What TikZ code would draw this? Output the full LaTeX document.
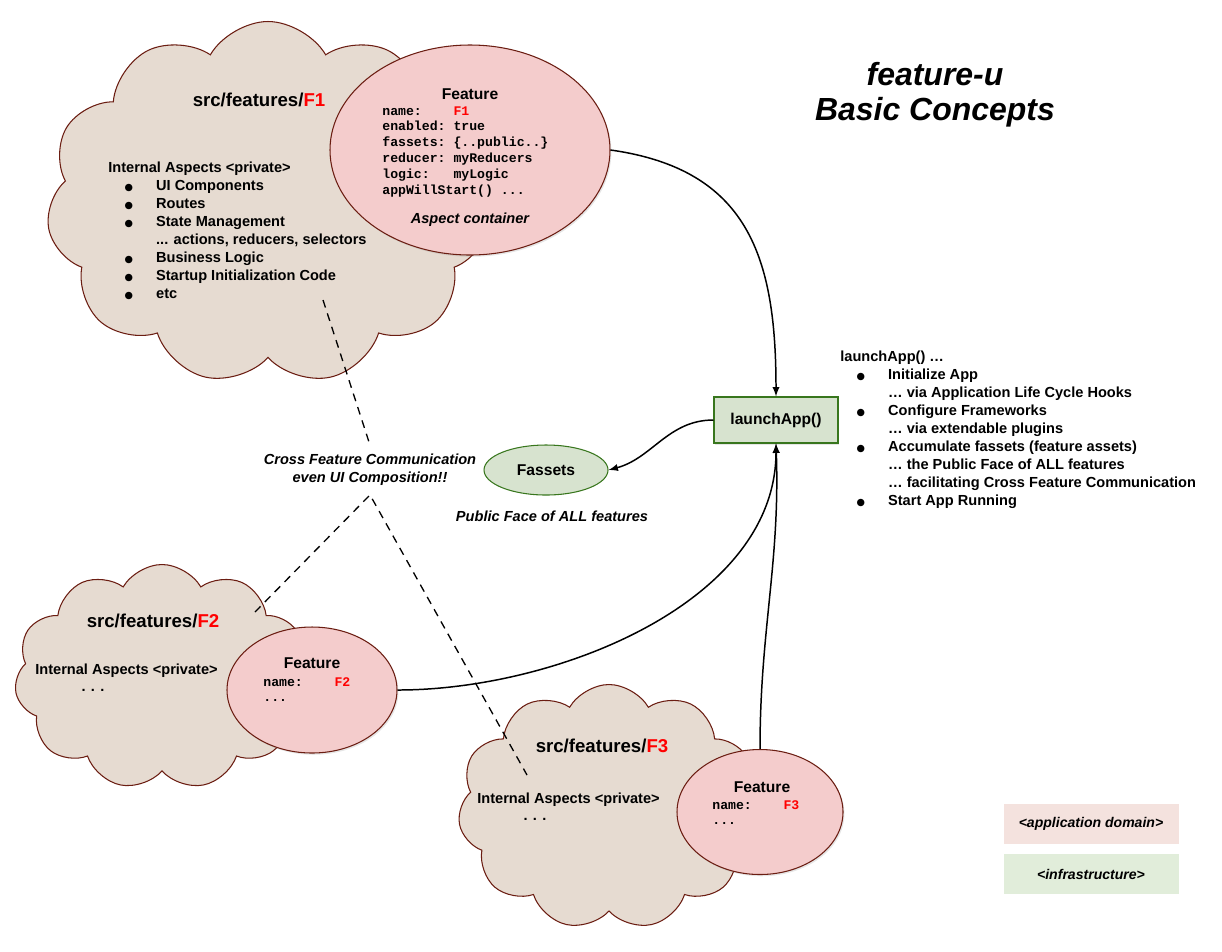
\documentclass[tikz,border=0pt]{standalone}
\usepackage{fontspec}
\setmainfont{Liberation Sans}
\setmonofont{Liberation Mono}
\newfontfamily\dotfont{DejaVu Sans}
\usetikzlibrary{shapes.geometric,shapes.symbols,shadows}

\definecolor{cloudfill}{HTML}{E6DBD1}
\definecolor{clouddraw}{HTML}{6B1D12}
\definecolor{featfill}{HTML}{F4CCCC}
\definecolor{infrafill}{HTML}{D7E3CF}
\definecolor{infradraw}{HTML}{38761D}
\definecolor{apppale}{HTML}{F4E2DE}
\definecolor{infrapale}{HTML}{E1EDDA}

\newcommand\bul{\hspace*{9.2pt}\makebox[18pt][l]{{\dotfont\fontsize{5.5}{6}\selectfont ●}}}
\newcommand\cont{\hspace*{27.2pt}}
\newcommand\fld[1]{\makebox[5.4em][l]{#1}}

\begin{document}
\begin{tikzpicture}[x=0.02cm, y=-0.02cm,
    font=\fontsize{8.3}{10.2}\selectfont\bfseries,
    cloudy/.style={cloud, cloud puffs=11, cloud puff arc=120, draw=clouddraw, fill=cloudfill, line width=0.6pt},
    featblob/.style={ellipse, draw=clouddraw, fill=featfill, line width=0.6pt, inner sep=0pt,
        drop shadow={opacity=0.2, shadow xshift=0.8pt, shadow yshift=-1pt}},
    infra/.style={draw=infradraw, fill=infrafill, line width=0.6pt, font=\fontsize{8.9}{10}\selectfont\bfseries},
    txt/.style={inner sep=0pt, align=left},
    code/.style={inner sep=0pt, align=left, font=\fontsize{7.5}{9}\selectfont\bfseries\ttfamily},
    big/.style={font=\fontsize{10.6}{12}\selectfont\bfseries},
    head/.style={font=\fontsize{8.9}{10}\selectfont\bfseries},
    note/.style={font=\fontsize{8.3}{10.2}\selectfont\bfseries\itshape},
    link/.style={-latex, line width=0.85pt},
    crosslink/.style={dash pattern=on 4.5pt off 3.5pt, line width=0.75pt},
    legend/.style={minimum width=175*0.02cm, minimum height=40*0.02cm, font=\fontsize{8}{10}\selectfont\bfseries\itshape}]
    \useasboundingbox (0,0) rectangle (1222,951);

    % clouds
    \node[cloudy, aspect=1.22, minimum width=443*0.02cm, minimum height=363*0.02cm] (f1cloud) at (268,203) {};
    \node[cloudy, aspect=1.31, minimum width=295*0.02cm, minimum height=225*0.02cm] (f2cloud) at (162,677) {};
    \node[cloudy, aspect=1.23, minimum width=302*0.02cm, minimum height=245*0.02cm] (f3cloud) at (609,807) {};

    % feature ellipses
    \node[featblob, minimum width=280*0.02cm, minimum height=210*0.02cm] (f1feat) at (470,150) {};
    \node[featblob, minimum width=170*0.02cm, minimum height=126*0.02cm] (f2feat) at (312,690) {};
    \node[featblob, minimum width=166*0.02cm, minimum height=125*0.02cm] (f3feat) at (760,812) {};

    % infrastructure
    \node[infra, minimum width=124*0.02cm, minimum height=46*0.02cm,
        drop shadow={opacity=0.2, shadow xshift=0.8pt, shadow yshift=-1pt}] (launch) at (776,420) {launchApp()};
    \node[infra, ellipse, minimum width=124*0.02cm, minimum height=50*0.02cm] (fassets) at (546,470) {Fassets};

    % F1 texts
    \node[big] (f1title) at (259,100) {src/features/{\color{red}F1}};
    \node[txt, anchor=north west] (f1list) at (108,162) {Internal Aspects <private>\\
        \bul UI Components\\
        \bul Routes\\
        \bul State Management\\
        \cont ... actions, reducers, selectors\\
        \bul Business Logic\\
        \bul Startup Initialization Code\\
        \bul etc};
    \node[head] (f1name) at (470,94) {Feature};
    \node[code, anchor=north west] (f1code) at (382,106) {\fld{name:}{\color{red}F1}\\
        \fld{enabled:}true\\
        \fld{fassets:}\{..public..\}\\
        \fld{reducer:}myReducers\\
        \fld{logic:}myLogic\\
        appWillStart() ...};
    \node[note] (f1note) at (470,220) {Aspect container};

    % F2 texts
    \node[big] (f2title) at (153,621) {src/features/{\color{red}F2}};
    \node[txt, anchor=west] (f2list) at (35,671) {Internal Aspects <private>};
    \node (f2dots) at (93,690) {. . .};
    \node[head] (f2name) at (312,663) {Feature};
    \node[code, anchor=north west] (f2code) at (263,677) {\fld{name:}{\color{red}F2}\\...};

    % F3 texts
    \node[big] (f3title) at (602,746) {src/features/{\color{red}F3}};
    \node[txt, anchor=west] (f3list) at (477,800) {Internal Aspects <private>};
    \node (f3dots) at (535,819) {. . .};
    \node[head] (f3name) at (762,787) {Feature};
    \node[code, anchor=north west] (f3code) at (712,800) {\fld{name:}{\color{red}F3}\\...};

    % headings and notes
    \node[align=center, font=\fontsize{18.2}{19.8}\selectfont\bfseries\itshape] (title) at (935,95) {feature-u\\Basic Concepts};
    \node[txt, anchor=north west] (launchlist) at (840,351) {launchApp() …\\
        \bul Initialize App\\
        \cont … via Application Life Cycle Hooks\\
        \bul Configure Frameworks\\
        \cont … via extendable plugins\\
        \bul Accumulate fassets (feature assets)\\
        \cont … the Public Face of ALL features\\
        \cont … facilitating Cross Feature Communication\\
        \bul Start App Running};
    \node[note] (public) at (552,516) {Public Face of ALL features};
    \node[note, align=center, inner sep=5pt] (cross) at (370,470) {Cross Feature Communication\\even UI Composition!!};

    % legend
    \node[legend, fill=apppale] (appkey) at (1091,824) {<application domain>};
    \node[legend, fill=infrapale] (infrakey) at (1091,874) {<infrastructure>};

    % connectors
    \draw[link] (f1feat.east) to[out=-8, in=90, looseness=1.2] (launch.north);
    \draw[link] (launch.west) to[out=180, in=15] (fassets.east);
    \draw[link] (f2feat.east) to[out=0, in=-90, looseness=0.9] (launch.south);
    \draw[link] (f3feat.north) to[out=90, in=-88] (launch.south);

    \coordinate (f1end) at (323,300);
    \coordinate (f2end) at (255,612);
    \coordinate (f3end) at (527,775);
    \draw[crosslink] (f1end) -- (cross.north);
    \draw[crosslink] (f2end) -- (cross.south) -- (f3end);
\end{tikzpicture}
\end{document}
